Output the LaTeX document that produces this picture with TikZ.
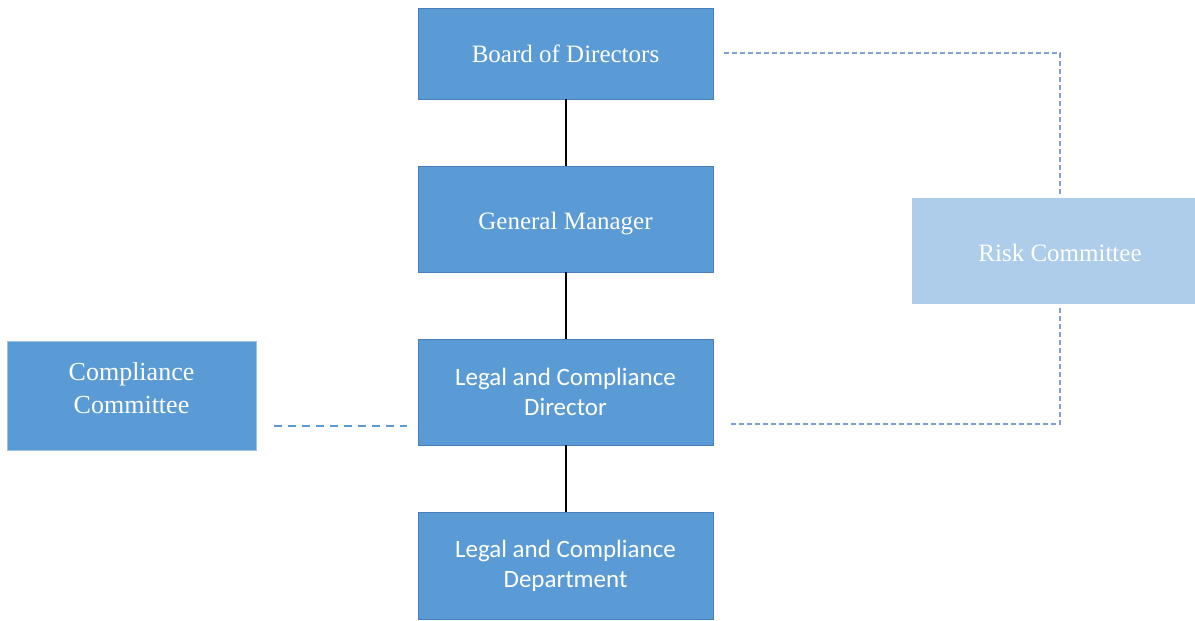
\documentclass[tikz,border=0pt]{standalone}
\usepackage{fontspec}
\setmainfont{Liberation Serif}
\newfontfamily\calib{Carlito}
\definecolor{boxblue}{HTML}{5B9BD5}
\definecolor{boxedge}{HTML}{4A7EBB}
\definecolor{lightblue}{HTML}{ADCDEA}
\definecolor{dashblue}{HTML}{7F9FD8}
\definecolor{ccedge}{HTML}{9DC3E6}
\begin{document}
\begin{tikzpicture}[x=1pt,y=-1pt,
  orgbox/.style={rectangle, fill=boxblue, draw=boxedge, line width=0.8pt, text=white, inner sep=0pt, align=center, minimum width=295pt},
  serifbox/.style={font=\fontsize{25}{30}\selectfont},
  sansbox/.style={font=\calib\fontsize{25}{30}\selectfont},
  solidlink/.style={draw=black, line width=2pt},
  thindash/.style={draw=dashblue, line width=1.3pt, dash pattern=on 5pt off 3pt},
  thickdash/.style={draw=boxblue, line width=2pt, dash pattern=on 8pt off 6pt}]
\useasboundingbox (0,0) rectangle (1195,621);
\node[orgbox, serifbox, minimum height=91pt] (board) at (565.5,53.5) {Board of Directors};
\node[orgbox, serifbox, minimum height=106pt] (gm) at (565.5,219) {General Manager\\[-34pt]\mbox{}};
\node[orgbox, sansbox, minimum height=106pt] (lcd) at (565.5,392) {Legal and Compliance\\Director};
\node[orgbox, sansbox, minimum height=107pt] (lcdep) at (565.5,565.5) {Legal and Compliance\\Department};
\node[rectangle, fill=boxblue, draw=ccedge, line width=0.6pt, text=white, inner sep=0pt, align=center, minimum width=249pt, minimum height=109pt, font=\fontsize{26}{33}\selectfont] (cc) at (131.5,395.5) {Compliance\\Committee\\[-18pt]\mbox{}};
\node[rectangle, fill=lightblue, text=white, inner sep=0pt, align=center, minimum width=283pt, minimum height=106pt, serifbox] (risk) at (1053.5,251) {\hspace*{13pt}Risk Committee\\[-34pt]\mbox{}};
\draw[solidlink] (board.south) -- (gm.north);
\draw[solidlink] (gm.south) -- (lcd.north);
\draw[solidlink] (lcd.south) -- (lcdep.north);
\coordinate (bstart) at (724,53);
\coordinate (rbend) at (1060,424);
\coordinate (lend) at (731,424);
\coordinate (rtop) at (1060,197);
\coordinate (rbot) at (1060,308);
\draw[thindash] (bstart) -| (rtop);
\draw[thindash] (rbot) -- (rbend) -- (lend);
\coordinate (ccstart) at (274,426);
\coordinate (ccend) at (407,426);
\draw[thickdash] (ccstart) -- (ccend);
\end{tikzpicture}
\end{document}
